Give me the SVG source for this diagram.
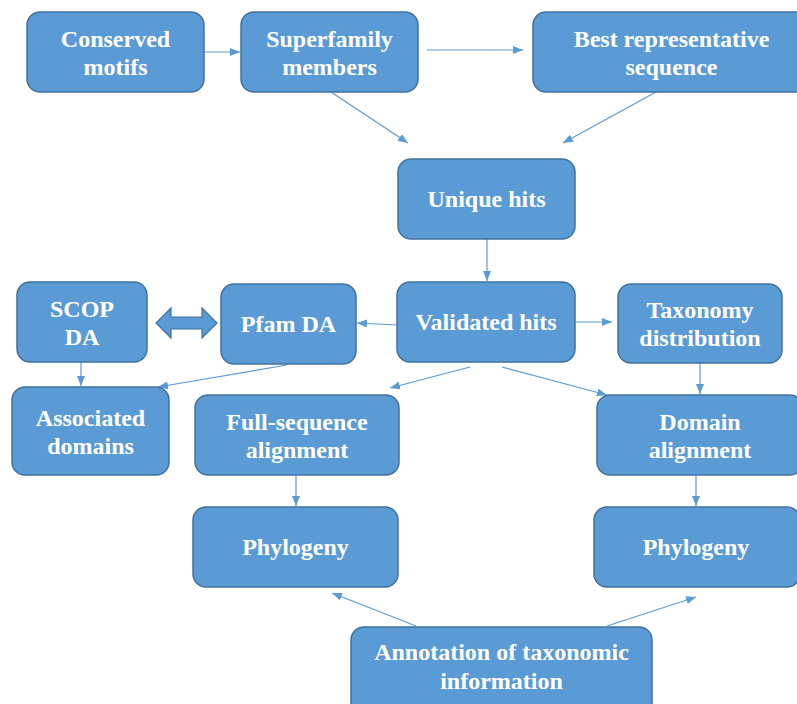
<svg xmlns="http://www.w3.org/2000/svg" width="797" height="704" viewBox="0 0 797 704">
<defs>
<marker id="ah" markerWidth="10" markerHeight="8" refX="10" refY="4" orient="auto" markerUnits="userSpaceOnUse">
<path d="M0,0 L10,4 L0,8 Z" fill="#5B9BD5"/>
</marker>
<style>
.box{fill:#5B9BD5;stroke:#41719C;stroke-width:1.5}
.t{font-family:"Liberation Serif","Times New Roman",serif;font-weight:bold;font-size:24px;fill:#fff;text-anchor:middle}
.c{stroke:#5B9BD5;stroke-width:1.2;fill:none;marker-end:url(#ah)}
</style>
</defs>
<rect width="797" height="704" fill="#fff"/>
<g id="connectors">
<line class="c" x1="204" y1="52" x2="240" y2="52"/>
<line class="c" x1="427" y1="50" x2="523" y2="50"/>
<line class="c" x1="331" y1="92" x2="408" y2="143"/>
<line class="c" x1="656" y1="92" x2="563" y2="143"/>
<line class="c" x1="487" y1="239" x2="487" y2="281"/>
<line class="c" x1="397" y1="325" x2="357" y2="323"/>
<line class="c" x1="575" y1="322" x2="612" y2="322"/>
<line class="c" x1="700" y1="363" x2="700" y2="394"/>
<line class="c" x1="502" y1="367" x2="607" y2="395"/>
<line class="c" x1="470" y1="367" x2="390" y2="388"/>
<line class="c" x1="81" y1="362" x2="81" y2="386"/>
<line class="c" x1="287" y1="365" x2="158" y2="387"/>
<line class="c" x1="296" y1="475" x2="296" y2="506"/>
<line class="c" x1="696" y1="475" x2="696" y2="506"/>
<line class="c" x1="416" y1="626" x2="332" y2="593"/>
<line class="c" x1="607" y1="626" x2="696" y2="597"/>
<path d="M156,323 L171,308 L171,317 L202,317 L202,308 L217,323 L202,338 L202,329 L171,329 L171,338 Z" fill="#5B9BD5" stroke="#41719C" stroke-width="1.2"/>
</g>
<g id="conserved"><rect class="box" x="27" y="12" width="177" height="80" rx="13"/><text class="t" x="115.5" y="47">Conserved</text><text class="t" x="115.5" y="75">motifs</text></g>
<g id="superfamily"><rect class="box" x="241" y="12" width="177" height="80" rx="13"/><text class="t" x="329.5" y="47">Superfamily</text><text class="t" x="329.5" y="75">members</text></g>
<g id="best"><rect class="box" x="533" y="12" width="277" height="80" rx="13"/><text class="t" x="671.5" y="47">Best representative</text><text class="t" x="671.5" y="75">sequence</text></g>
<g id="unique"><rect class="box" x="398" y="159" width="177" height="80" rx="13"/><text class="t" x="486.5" y="207">Unique hits</text></g>
<g id="validated"><rect class="box" x="397" y="282" width="178" height="80" rx="13"/><text class="t" x="486" y="330">Validated hits</text></g>
<g id="taxonomy"><rect class="box" x="618" y="284" width="164" height="79" rx="13"/><text class="t" x="700" y="318">Taxonomy</text><text class="t" x="700" y="346">distribution</text></g>
<g id="scop"><rect class="box" x="17" y="282" width="130" height="80" rx="13"/><text class="t" x="82" y="317">SCOP</text><text class="t" x="82" y="345">DA</text></g>
<g id="pfam"><rect class="box" x="221" y="284" width="135" height="80" rx="13"/><text class="t" x="288.5" y="332">Pfam DA</text></g>
<g id="associated"><rect class="box" x="12" y="387" width="157" height="88" rx="13"/><text class="t" x="90.5" y="426">Associated</text><text class="t" x="90.5" y="454">domains</text></g>
<g id="fullseq"><rect class="box" x="195" y="395" width="204" height="80" rx="13"/><text class="t" x="297" y="430">Full-sequence</text><text class="t" x="297" y="458">alignment</text></g>
<g id="domainaln"><rect class="box" x="597" y="395" width="206" height="80" rx="13"/><text class="t" x="700" y="430">Domain</text><text class="t" x="700" y="458">alignment</text></g>
<g id="phylo1"><rect class="box" x="193" y="507" width="205" height="80" rx="13"/><text class="t" x="295.5" y="555">Phylogeny</text></g>
<g id="phylo2"><rect class="box" x="594" y="507" width="206" height="80" rx="13"/><text class="t" x="696" y="555">Phylogeny</text></g>
<g id="annotation"><rect class="box" x="351" y="627" width="301" height="90" rx="13"/><text class="t" x="501.5" y="660">Annotation of taxonomic</text><text class="t" x="501.5" y="689">information</text></g>
</svg>
